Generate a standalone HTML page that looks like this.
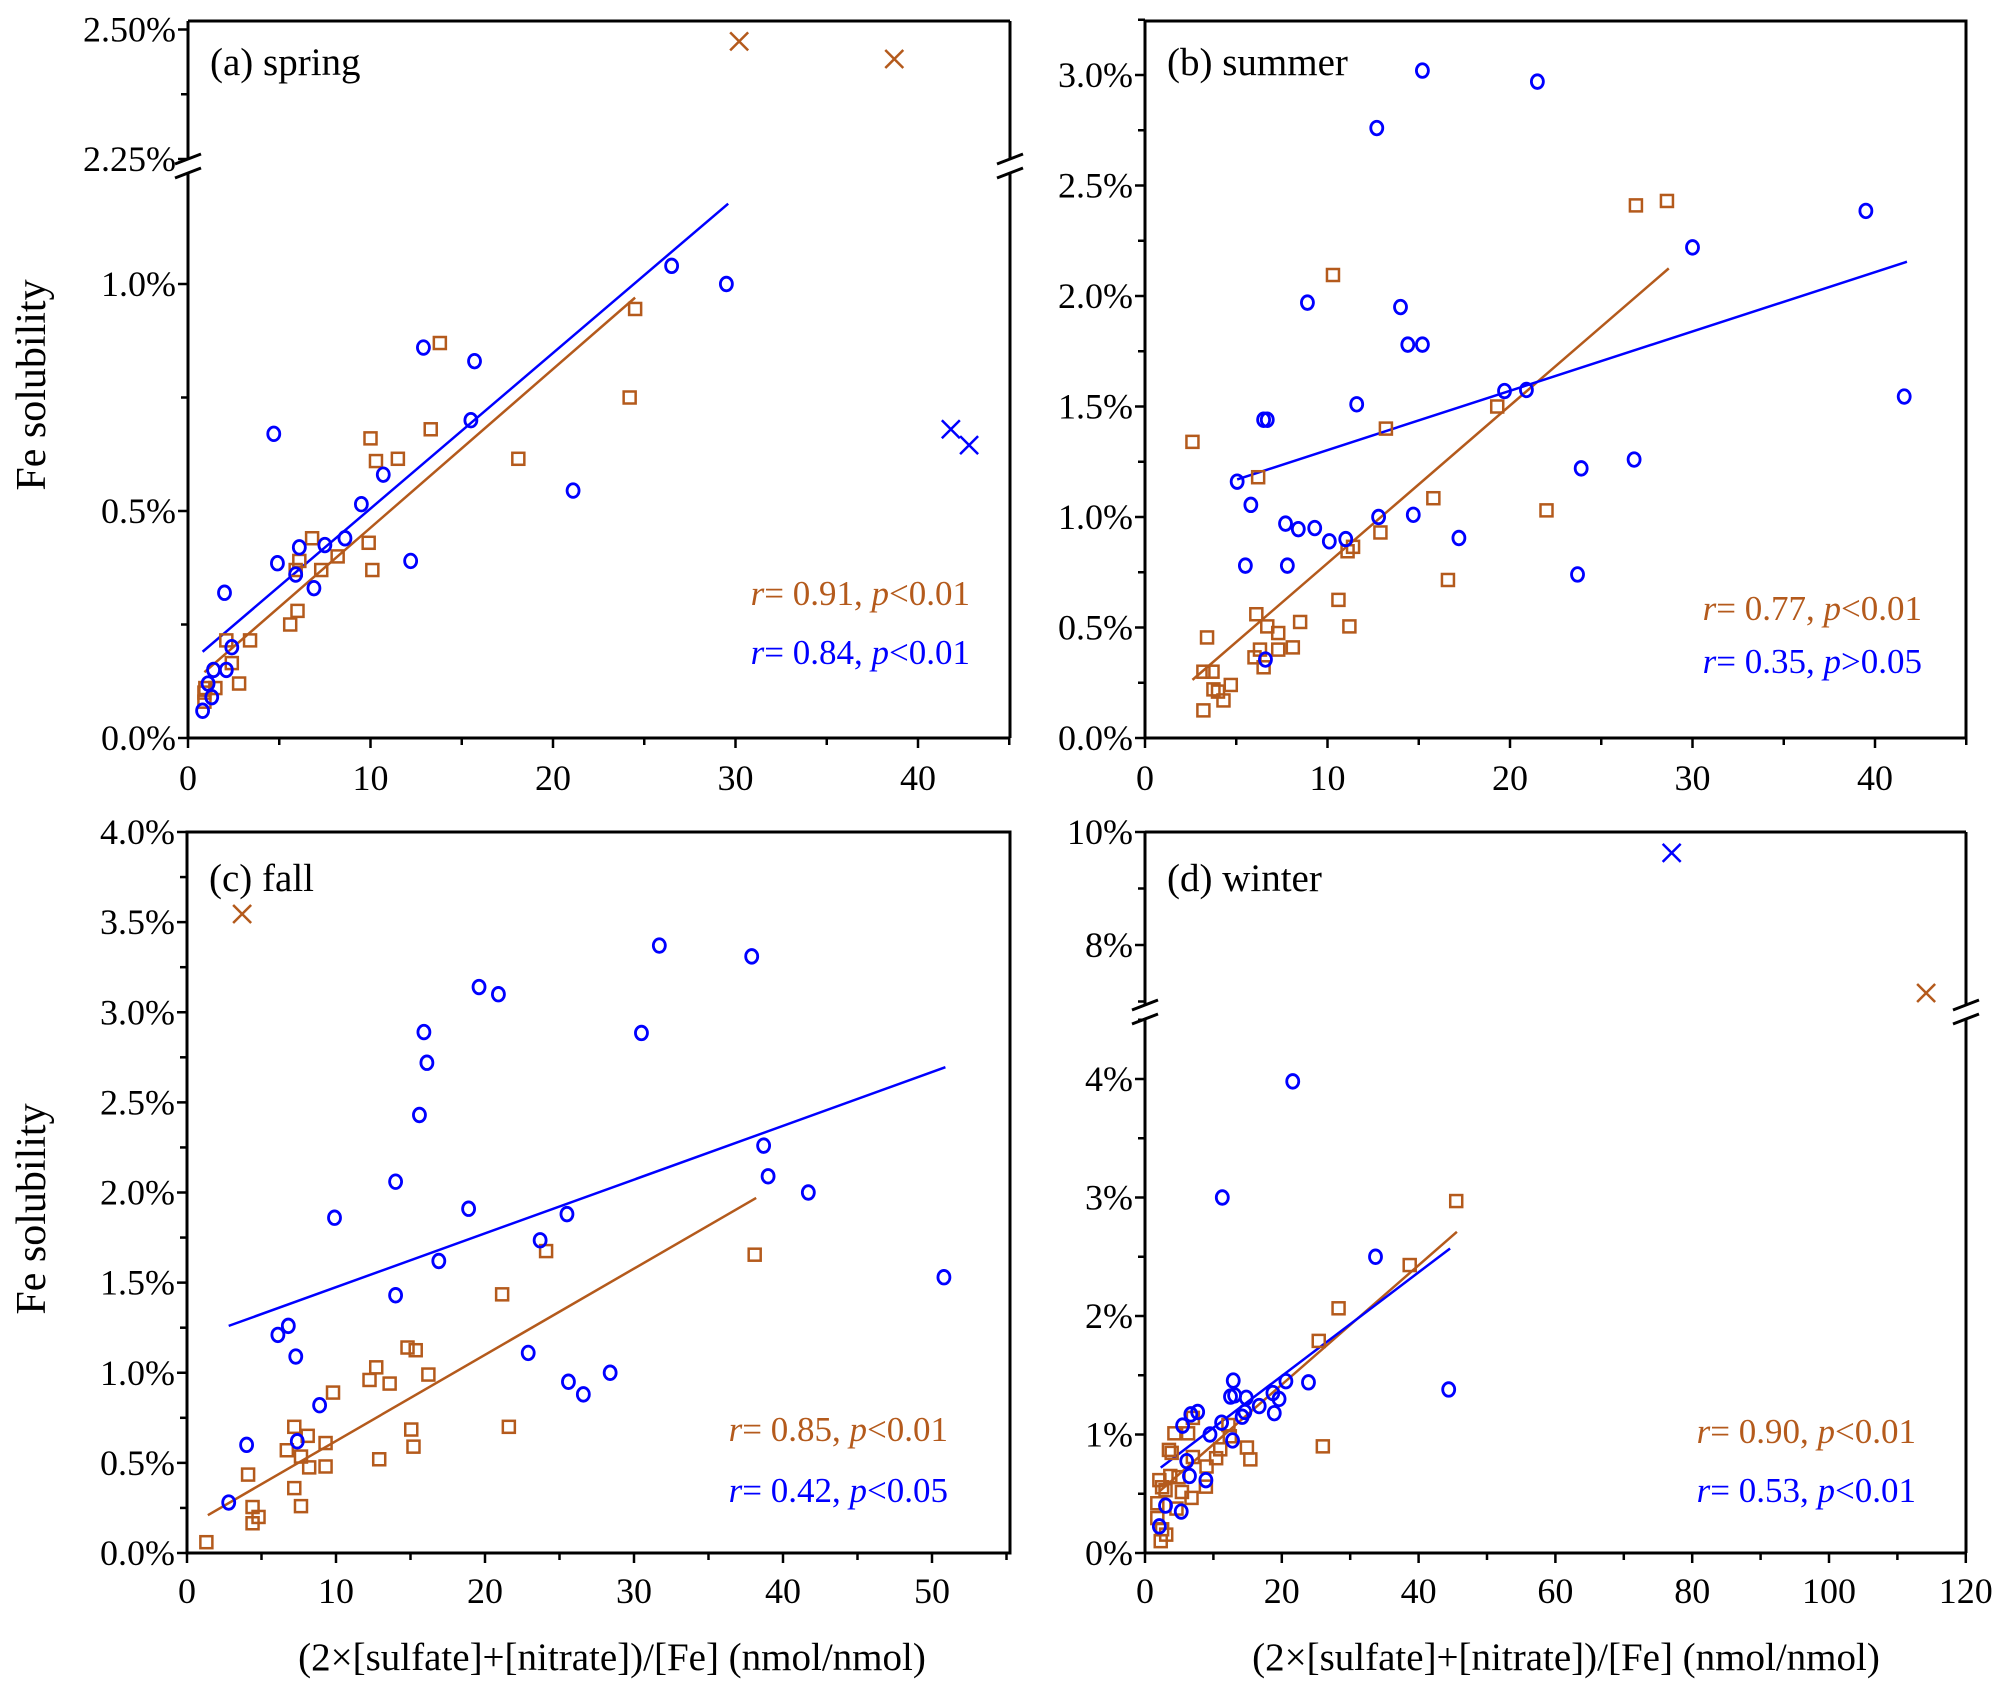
<!DOCTYPE html>
<html><head><meta charset="utf-8">
<style>
html,body{margin:0;padding:0;background:#fff;}
svg{display:block;}
svg text{font-family:"Liberation Serif","Times New Roman",serif;}
</style></head>
<body>
<svg id="fig" width="2011" height="1690" viewBox="0 0 2011 1690" xmlns="http://www.w3.org/2000/svg" font-family="Liberation Serif, serif"></svg>
<script>
// ---------- DATA ----------
// (a) spring
const springBlueX = [0.8,1.3,1.1,1.4,2.1,2.4,2.0,4.7,4.9,5.9,6.1,6.9,7.5,8.6,9.5,10.7,12.2,12.9,15.5,15.7,21.1,26.5,29.5];
const springBlueY = [0.06,0.09,0.12,0.15,0.15,0.2,0.32,0.67,0.385,0.36,0.42,0.33,0.425,0.44,0.515,0.58,0.39,0.86,0.70,0.83,0.545,1.04,1.0];
const springBrownX = [0.9,0.9,0.95,1.5,2.8,2.1,2.4,3.4,5.6,6.0,5.9,6.1,6.8,7.3,8.2,9.9,10.1,10.0,10.3,11.5,13.3,13.8,18.1,24.2,24.5];
const springBrownY = [0.08,0.10,0.11,0.11,0.12,0.215,0.165,0.215,0.25,0.28,0.37,0.39,0.44,0.37,0.40,0.43,0.37,0.66,0.61,0.615,0.68,0.87,0.615,0.75,0.945];
const springBrownOutX = [30.2,38.7];
const springBrownOutY = [2.477,2.443];
const springBlueOutX = [41.8,42.8];
const springBlueOutY = [0.68,0.645];
const springBlueFit = [[0.8,0.19],[29.6,1.177]];
const springBrownFit = [[0.9,0.145],[24.5,0.97]];
// (b) summer
const summerBlueX = [15.2,21.5,12.7,8.9,14.0,14.4,15.2,11.6,6.5,6.7,5.05,5.8,5.5,7.7,7.8,8.4,9.3,10.1,11.0,12.8,14.7,17.2,19.7,20.9,23.9,23.7,26.8,30.0,39.5,41.6,6.6];
const summerBlueY = [3.02,2.97,2.76,1.97,1.95,1.78,1.78,1.51,1.44,1.44,1.16,1.055,0.78,0.97,0.78,0.945,0.95,0.89,0.90,1.0,1.01,0.905,1.57,1.575,1.22,0.74,1.26,2.22,2.385,1.545,0.355];
const summerBrownX = [2.6,3.2,3.4,3.2,3.7,3.75,4.0,4.3,4.7,6.1,6.0,6.3,6.5,6.2,6.7,7.3,7.3,8.1,8.5,10.3,10.6,11.2,11.1,11.4,12.9,13.2,15.8,16.6,19.3,22.0,26.9,28.6];
const summerBrownY = [1.34,0.125,0.455,0.30,0.30,0.22,0.21,0.17,0.24,0.56,0.365,0.40,0.32,1.18,0.505,0.475,0.40,0.41,0.525,2.095,0.625,0.505,0.845,0.865,0.93,1.40,1.085,0.715,1.50,1.03,2.41,2.43];
const summerBlueFit = [[5.05,1.17],[41.75,2.155]];
const summerBrownFit = [[2.6,0.263],[28.7,2.125]];
// (c) fall
const fallBlueX = [2.8,4.0,6.1,6.8,7.3,7.4,8.9,9.9,14.0,14.0,15.6,15.9,16.1,16.9,18.9,19.6,20.9,22.9,23.7,25.5,25.6,26.6,28.4,30.5,31.7,37.9,38.7,39.0,41.7,50.8];
const fallBlueY = [0.28,0.60,1.21,1.26,1.09,0.62,0.82,1.86,2.06,1.43,2.43,2.89,2.72,1.62,1.91,3.14,3.10,1.11,1.735,1.88,0.95,0.88,1.0,2.885,3.37,3.31,2.26,2.09,2.0,1.53];
const fallBrownX = [1.3,4.1,4.4,4.4,4.8,6.7,7.2,7.2,7.65,7.65,8.2,8.1,9.3,9.3,9.8,12.25,12.7,12.9,13.6,14.8,15.35,15.05,15.2,16.2,21.15,21.6,24.1,38.1];
const fallBrownY = [0.06,0.435,0.255,0.165,0.20,0.57,0.36,0.70,0.26,0.535,0.475,0.65,0.48,0.61,0.89,0.96,1.03,0.52,0.94,1.14,1.125,0.685,0.59,0.99,1.435,0.70,1.675,1.655];
const fallBrownOutX = [3.7];
const fallBrownOutY = [3.545];
const fallBlueFit = [[2.8,1.26],[50.9,2.695]];
const fallBrownFit = [[1.4,0.21],[38.2,1.97]];
// (d) winter
const winterBlueX = [11.3,21.6,33.7,44.4,23.9,20.6,12.9,12.5,13.1,14.8,14.6,16.7,18.7,19.6,18.9,14.2,11.2,9.5,12.8,7.7,6.7,5.5,6.1,6.5,8.9,5.3,3.0,2.1];
const winterBlueY = [3.0,3.98,2.50,1.38,1.44,1.45,1.455,1.32,1.33,1.31,1.19,1.24,1.35,1.30,1.18,1.15,1.10,1.0,0.95,1.19,1.17,1.075,0.775,0.65,0.615,0.35,0.40,0.225];
const winterBrownX = [45.5,38.7,28.3,25.4,26.0,15.4,14.9,12.2,12.4,11.0,10.4,8.9,9.0,7.0,7.0,6.8,6.3,4.3,3.5,3.9,3.7,4.9,5.4,4.6,2.1,2.5,1.8,1.8,2.5,3.1,2.3,3.0];
const winterBrownY = [2.97,2.43,2.065,1.79,0.90,0.79,0.89,1.08,0.985,0.875,0.80,0.56,0.73,0.81,1.14,0.465,1.01,1.01,0.87,0.845,0.65,0.64,0.515,0.375,0.615,0.555,0.42,0.295,0.20,0.155,0.10,0.53];
const winterBlueOutX = [77.0];
const winterBlueOutY = [9.63];
const winterBrownOutX = [114.2];
const winterBrownOutY = [7.15];
const winterBlueFit = [[2.3,0.72],[44.6,2.57]];
const winterBrownFit = [[2.1,0.52],[45.6,2.71]];
// ticks
const xTicksAB = [0,10,20,30,40];
const xTicksC = [0,10,20,30,40,50];
const xTicksD = [0,20,40,60,80,100,120];
const yTicksALow = [0,0.5,1.0];
const yTicksAHigh = [2.25,2.50];
const yTicksB = [0,0.5,1.0,1.5,2.0,2.5,3.0];
const yTicksC = [0,0.5,1.0,1.5,2.0,2.5,3.0,3.5,4.0];
const yTicksDLow = [0,1,2,3,4];
const yTicksDHigh = [8,10];

// ---------- DRAW ----------
const NS = "http://www.w3.org/2000/svg";
const svg = document.getElementById('fig');
const BLUE = "#0000ff", BROWN = "#b45a1c";
const FONT = '"Liberation Serif", serif';
function mk(tag, attrs, parent){
  const e = document.createElementNS(NS, tag);
  for (const k in attrs) e.setAttribute(k, attrs[k]);
  (parent||svg).appendChild(e);
  return e;
}
function txt(s, x, y, size, anchor, fill, parent){
  const t = mk('text', {x:x, y:y, 'font-size':size, 'font-family':FONT, 'text-anchor':anchor||'start', fill:fill||'#000'}, parent);
  t.textContent = s;
  return t;
}
function panel(cfg){
  const g = mk('g', {});
  
  
  const X = v => cfg.x0 + (v - cfg.xmin) * cfg.xs;
  const Y = v => (cfg.upper && v > cfg.upper.min) ? cfg.upper.y0 - (v - cfg.upper.v0) * cfg.upper.s : cfg.yb - v * cfg.ys;
  const L = cfg.x0, R = cfg.x1, T = cfg.top, B = cfg.yb;
  const ax = {stroke:'#000','stroke-width':3,fill:'none'};
  if (cfg.brk){
    const b1 = cfg.brk[0], b2 = cfg.brk[1];
    for (const xx of [L, R]){
      mk('line', Object.assign({x1:xx,y1:T,x2:xx,y2:b1}, ax), g);
      mk('line', Object.assign({x1:xx,y1:b2,x2:xx,y2:B}, ax), g);
      mk('line', {x1:xx-13,y1:b1+4,x2:xx+13,y2:b1-6,stroke:'#000','stroke-width':3}, g);
      mk('line', {x1:xx-13,y1:b2+6,x2:xx+13,y2:b2-4,stroke:'#000','stroke-width':3}, g);
    }
    mk('line', Object.assign({x1:L,y1:T,x2:R,y2:T}, ax), g);
    mk('line', Object.assign({x1:L,y1:B,x2:R,y2:B}, ax), g);
  } else {
    mk('rect', Object.assign({x:L,y:T,width:R-L,height:B-T}, ax), g);
  }
  const xt = cfg.xticks;
  const step = xt[1]-xt[0];
  for (let v = cfg.xmin; v <= cfg.xmax + 1e-9; v += step/2){
    const major = xt.some(t => Math.abs(t-v) < 1e-9);
    mk('line', {x1:X(v),y1:B,x2:X(v),y2:B+(major?10:7),stroke:'#000','stroke-width':2.5}, g);
  }
  xt.forEach(v => txt(String(v), X(v), cfg.xlabY, 36, 'middle', '#000', g));
  cfg.yticks.forEach(set => {
    const s = set.vals, st = s[1]-s[0];
    for (let v = set.from; v <= set.to + 1e-9; v += st/2){
      const major = s.some(t => Math.abs(t-v) < 1e-9);
      mk('line', {x1:L,y1:Y(v),x2:L-(major?10:7),y2:Y(v),stroke:'#000','stroke-width':2.5}, g);
    }
    s.forEach(v => txt(set.fmt(v), L-12, Y(v)+12, 36, 'end', '#000', g));
  });
  txt(cfg.title, cfg.x0+22, cfg.titleY, 39, 'start', '#000', g);
  const fit = (pts, col, nm) => {
    const l = mk('line', {x1:X(pts[0][0]),y1:Y(pts[0][1]),x2:X(pts[1][0]),y2:Y(pts[1][1]),stroke:col,'stroke-width':2.5}, g);
    
    
  };
  fit(cfg.brownFit, BROWN, 'brown-fit-line');
  fit(cfg.blueFit, BLUE, 'blue-fit-line');
  cfg.brownX.forEach((v,i) => {
    const r = mk('rect', {x:X(v)-6,y:Y(cfg.brownY[i])-6,width:12,height:12,fill:'none',stroke:BROWN,'stroke-width':2.5}, g);
    
    
  });
  cfg.blueX.forEach((v,i) => {
    const c = mk('ellipse', {cx:X(v),cy:Y(cfg.blueY[i]),rx:6,ry:6.8,fill:'none',stroke:BLUE,'stroke-width':2.8}, g);
    
    
  });
  const cross = (xs, ys, col) => xs.forEach((v,i) => {
    const cx = X(v), cy = Y(ys[i]);
    const p = mk('path', {d:`M${cx-9},${cy-9}L${cx+9},${cy+9}M${cx-9},${cy+9}L${cx+9},${cy-9}`,stroke:col,'stroke-width':2.5,fill:'none'}, g);
    
    
  });
  if (cfg.brownOutX) cross(cfg.brownOutX, cfg.brownOutY, BROWN);
  if (cfg.blueOutX) cross(cfg.blueOutX, cfg.blueOutY, BLUE);
  const stat = (r, p, col, y) => {
    const t = mk('text', {x:cfg.statX, y:y, 'font-size':35, 'font-family':FONT, 'text-anchor':'end', fill:col}, g);
    t.innerHTML = `<tspan font-style="italic">r</tspan>= ${r}, <tspan font-style="italic">p</tspan>${p}`;
    
  };
  stat(cfg.statBrown[0], cfg.statBrown[1], BROWN, cfg.statY[0]);
  stat(cfg.statBlue[0], cfg.statBlue[1], BLUE, cfg.statY[1]);
}
const pct = d => v => v.toFixed(d) + '%';
panel({name:'panel-spring', title:'(a) spring', x0:188, x1:1010, xmin:0, xmax:45, xs:18.25, top:21, yb:738, ys:454,
  upper:{min:1.8, v0:2.25, y0:159, s:518}, brk:[160,172],
  xticks:xTicksAB, xlabY:790, titleY:75,
  yticks:[{vals:yTicksALow, from:0, to:1.0, fmt:pct(1)},{vals:yTicksAHigh, from:2.25, to:2.5, fmt:pct(2)}],
  blueX:springBlueX, blueY:springBlueY, brownX:springBrownX, brownY:springBrownY,
  brownOutX:springBrownOutX, brownOutY:springBrownOutY, blueOutX:springBlueOutX, blueOutY:springBlueOutY,
  blueFit:springBlueFit, brownFit:springBrownFit,
  statX:970, statY:[605,664], statBrown:['0.91','<0.01'], statBlue:['0.84','<0.01']});
panel({name:'panel-summer', title:'(b) summer', x0:1145, x1:1966, xmin:0, xmax:45, xs:18.25, top:21, yb:738, ys:221,
  xticks:xTicksAB, xlabY:790, titleY:75,
  yticks:[{vals:yTicksB, from:0, to:3.25, fmt:pct(1)}],
  blueX:summerBlueX, blueY:summerBlueY, brownX:summerBrownX, brownY:summerBrownY,
  blueFit:summerBlueFit, brownFit:summerBrownFit,
  statX:1922, statY:[620,673], statBrown:['0.77','<0.01'], statBlue:['0.35','>0.05']});
panel({name:'panel-fall', title:'(c) fall', x0:187, x1:1010, xmin:0, xmax:55, xs:14.9, top:832, yb:1553, ys:180.25,
  xticks:xTicksC, xlabY:1603, titleY:891,
  yticks:[{vals:yTicksC, from:0, to:4.0, fmt:pct(1)}],
  blueX:fallBlueX, blueY:fallBlueY, brownX:fallBrownX, brownY:fallBrownY,
  brownOutX:fallBrownOutX, brownOutY:fallBrownOutY,
  blueFit:fallBlueFit, brownFit:fallBrownFit,
  statX:948, statY:[1441,1502], statBrown:['0.85','<0.01'], statBlue:['0.42','<0.05']});
panel({name:'panel-winter', title:'(d) winter', x0:1145, x1:1966, xmin:0, xmax:120, xs:6.84, top:832, yb:1553, ys:118.5,
  upper:{min:5, v0:10, y0:832, s:56.5}, brk:[1006,1018],
  xticks:xTicksD, xlabY:1603, titleY:891,
  yticks:[{vals:yTicksDLow, from:0, to:4.5, fmt:pct(0)},{vals:yTicksDHigh, from:7, to:10, fmt:pct(0)}],
  blueX:winterBlueX, blueY:winterBlueY, brownX:winterBrownX, brownY:winterBrownY,
  brownOutX:winterBrownOutX, brownOutY:winterBrownOutY, blueOutX:winterBlueOutX, blueOutY:winterBlueOutY,
  blueFit:winterBlueFit, brownFit:winterBrownFit,
  statX:1916, statY:[1443,1502], statBrown:['0.90','<0.01'], statBlue:['0.53','<0.01']});
function ytitle(cy, nm){
  const t = mk('text', {x:0, y:0, 'font-size':42, 'font-family':FONT, 'text-anchor':'middle', transform:`translate(45 ${cy}) rotate(-90)`});
  t.textContent = 'Fe  solubility';
  
  
}
ytitle(385, 'y-axis-title-top');
ytitle(1209, 'y-axis-title-bottom');
function xtitle(cx, nm){
  const t = mk('text', {x:cx, y:1670, 'font-size':39, 'font-family':FONT, 'text-anchor':'middle'});
  t.textContent = '(2×[sulfate]+[nitrate])/[Fe] (nmol/nmol)';
  
  
}
xtitle(612, 'x-axis-title-left');
xtitle(1566, 'x-axis-title-right');
</script>
</body></html>
